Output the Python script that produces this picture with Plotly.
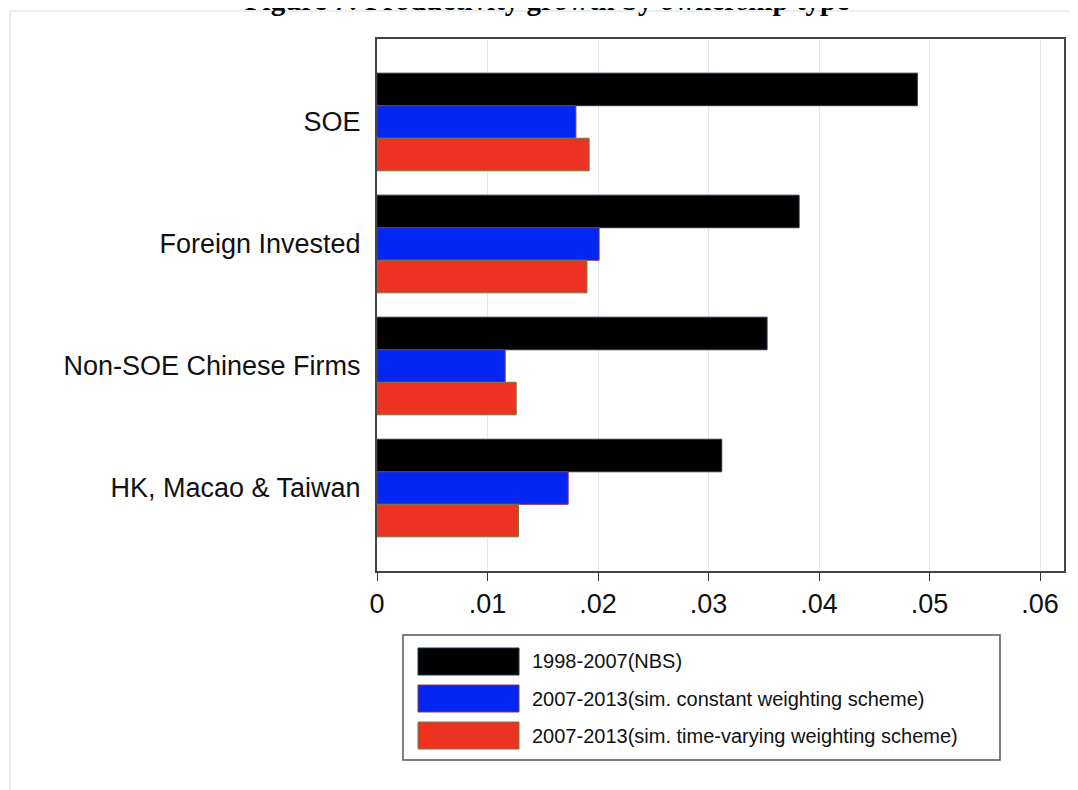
import plotly.graph_objects as go

# ---- data ----
categories = ["SOE", "Foreign Invested", "Non-SOE Chinese Firms", "HK, Macao & Taiwan"]
series_names = [
    "1998-2007(NBS)",
    "2007-2013(sim. constant weighting scheme)",
    "2007-2013(sim. time-varying weighting scheme)",
]
nbs_1998_2007 = [0.0489, 0.0382, 0.0353, 0.0312]
sim_constant = [0.0180, 0.0201, 0.0116, 0.0173]
sim_time_varying = [0.0192, 0.0190, 0.0126, 0.0128]
x_tickvals = [0, 0.01, 0.02, 0.03, 0.04, 0.05, 0.06]
x_ticktext = ["0", ".01", ".02", ".03", ".04", ".05", ".06"]
title_text = "Figure 7: Productivity growth by ownership type"

# ---- styles ----
fill_colors = ["#000000", "#0326f2", "#ee3222"]
line_colors = ["#233550", "#8a3366", "#77773f"]

W, H = 1078, 790
OFF = 8  # page body margin
# plot area in reference-picture pixels
L, R, T, B = 377, 1064, 39, 571


def px_x(p):
    return (p - L) / (R - L)


def px_y(p):
    return (B - p) / (B - T)


fig = go.Figure()
for name, vals, fc, lc in zip(series_names, [nbs_1998_2007, sim_constant, sim_time_varying],
                              fill_colors, line_colors):
    fig.add_trace(go.Bar(
        y=categories, x=vals, name=name, orientation="h",
        marker=dict(color=fc, line=dict(color=lc, width=1)),
        showlegend=False,
    ))

shapes = []
# outer light frame
shapes.append(dict(type="rect", xref="paper", yref="paper",
                   x0=px_x(10), x1=px_x(1100), y0=px_y(820), y1=px_y(11),
                   line=dict(color="#e2e9ed", width=1.5), fillcolor="rgba(0,0,0,0)", layer="below"))
# legend box
shapes.append(dict(type="rect", xref="paper", yref="paper",
                   x0=px_x(403), x1=px_x(1000), y0=px_y(760), y1=px_y(635),
                   line=dict(color="#555555", width=1.5), fillcolor="white"))
annotations = []
row_tops = [648, 685, 722]
for i, (name, fc, lc) in enumerate(zip(series_names, fill_colors, line_colors)):
    t0 = row_tops[i]
    shapes.append(dict(type="rect", xref="paper", yref="paper",
                       x0=px_x(418), x1=px_x(519), y0=px_y(t0 + 27), y1=px_y(t0),
                       line=dict(color=lc, width=1), fillcolor=fc))
    annotations.append(dict(xref="paper", yref="paper", x=px_x(530), y=px_y(t0 + 13.5),
                            xanchor="left", yanchor="middle", text=name, showarrow=False,
                            font=dict(family="Liberation Sans, Arial", size=20, color="#111111")))

fig.update_layout(
    width=W, height=H,
    margin=dict(l=L - OFF, r=W - (R - OFF), t=T - OFF, b=H - (B - OFF), pad=0),
    paper_bgcolor="white", plot_bgcolor="white",
    barmode="group", bargap=0.2, bargroupgap=0,
    font=dict(family="Liberation Sans, Arial", color="#111111"),
    title=dict(text="<b>" + title_text + "</b>", x=0.5, xanchor="center",
               xref="container", yref="container", y=1 - 2 / H, yanchor="bottom",
               font=dict(family="Liberation Serif, serif", size=29, color="#000000")),
    xaxis=dict(range=[0, (R - L) / 11050], tickvals=x_tickvals, ticktext=x_ticktext,
               showgrid=True, gridcolor="#e0e8ec", gridwidth=1.2,
               showline=True, linecolor="#444444", linewidth=2, mirror=True,
               ticks="outside", ticklen=8, tickwidth=1.2, tickcolor="#333333",
               tickfont=dict(size=27, color="#111111"), zeroline=False),
    yaxis=dict(type="category", categoryorder="array", categoryarray=categories,
               range=[3.68, -0.68], showgrid=False,
               showline=True, linecolor="#444444", linewidth=2, mirror=True,
               ticks="", ticklabelstandoff=9,
               tickfont=dict(size=27, color="#111111"), zeroline=False),
    shapes=shapes, annotations=annotations,
)

fig.write_html("out.html")
